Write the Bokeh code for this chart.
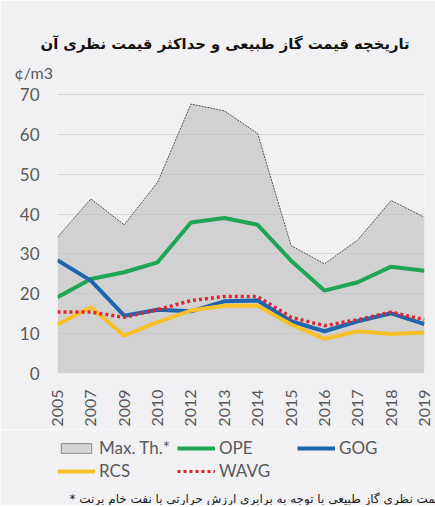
from bokeh.plotting import figure
from bokeh.models import Range1d, FixedTicker, Legend, LegendItem, Title
from bokeh.layouts import column
from bokeh.embed import file_html
from bokeh.resources import INLINE
import math

years = ["2005", "2007", "2009", "2010", "2012", "2013", "2014", "2015", "2016", "2017", "2018", "2019"]
max_th = [34.2, 43.8, 37.3, 48.0, 67.6, 65.9, 60.2, 32.1, 27.5, 33.5, 43.4, 39.2]
ope = [19.1, 23.7, 25.4, 27.9, 37.9, 39.0, 37.3, 28.3, 20.8, 22.9, 26.8, 25.8]
gog = [28.4, 23.3, 14.5, 16.0, 15.6, 18.1, 18.3, 13.1, 10.6, 13.1, 15.1, 12.4]
rcs = [12.3, 16.6, 9.5, 12.9, 15.8, 17.0, 17.0, 12.3, 8.7, 10.6, 9.9, 10.3]
wavg = [15.4, 15.4, 14.1, 16.0, 18.3, 19.3, 19.3, 14.1, 12.0, 13.5, 15.4, 13.5]
y_ticks = [0, 10, 20, 30, 40, 50, 60, 70]
series_names = ["Max. Th.*", "OPE", "GOG", "RCS", "WAVG"]

title_text = "تاریخچه قیمت گاز طبیعی و حداکثر قیمت نظری آن"
unit_text = "¢/m3"
note_text = "* حداکثر قیمت نظری گاز طبیعی با توجه به برابری ارزش حرارتی با نفت خام برنت"

x = list(range(len(years)))
BG = "#f1f1f3"
FONT = "Lato"
C_AREA, C_OPE, C_GOG, C_RCS, C_WAVG = "#bdbdbd", "#1fa553", "#1f65ad", "#f7c12b", "#dc2634"

# ---------------- main chart ----------------
p = figure(frame_width=367, frame_height=283, output_backend="svg", toolbar_location=None,
           x_range=Range1d(0, len(years) - 1), y_range=Range1d(0, 71),
           min_border_left=57, min_border_right=11, min_border_top=90, min_border_bottom=52,
           background_fill_color=BG, border_fill_color=BG, outline_line_color=None)

xs_poly = x + x[::-1]
ys_poly = max_th + [0] * len(x)
p.patch(xs_poly, ys_poly, fill_color=C_AREA, fill_alpha=0.62, line_color=None)
p.line(x, max_th, line_color="#555555", line_width=1, line_dash="2 1")
p.line(x, ope, line_color=C_OPE, line_width=4)
p.line(x, gog, line_color=C_GOG, line_width=4)
p.line(x, rcs, line_color=C_RCS, line_width=4)
p.line(x, wavg, line_color=C_WAVG, line_width=3.5, line_dash="3 3")

p.xaxis.ticker = FixedTicker(ticks=x)
p.xaxis.major_label_overrides = {i: y for i, y in enumerate(years)}
p.xaxis.major_label_orientation = math.pi / 2
p.yaxis.ticker = FixedTicker(ticks=y_ticks)
for ax in (p.xaxis, p.yaxis):
    ax.axis_line_color = None
    ax.major_tick_line_color = None
    ax.minor_tick_line_color = None
    ax.major_label_text_color = "#595959"
    ax.major_label_text_font = FONT
p.xaxis.major_label_text_font_size = "16px"
p.yaxis.major_label_text_font_size = "17px"
p.xaxis.major_label_standoff = 10
p.yaxis.major_label_standoff = 12
p.xgrid.grid_line_color = None
p.ygrid.grid_line_color = "#d9d9d9"
p.ygrid.grid_line_width = 1

p.add_layout(Title(text=unit_text, align="left", text_font=FONT, offset=-43,
                   text_font_size="16px", text_font_style="normal", text_color="#595959",
                   standoff=17), "above")
p.add_layout(Title(text=title_text, align="left", text_font="DejaVu Sans", offset=-17,
                   text_font_size="14.8px", text_font_style="bold", text_color="#111111",
                   standoff=1), "above")

# ---------------- legend + footnote ----------------
q = figure(frame_width=435, frame_height=60, output_backend="svg", toolbar_location=None,
           x_range=Range1d(0, 435), y_range=Range1d(0, 60),
           min_border=0, background_fill_color=BG, border_fill_color=BG,
           outline_line_color=None, x_axis_location=None, y_axis_location=None)
q.grid.grid_line_color = None

# legend swatches only (placed outside the visible range)
g_area = q.quad(left=[-20], right=[-10], bottom=[-20], top=[-10], fill_color="#d6d6d6",
                line_color="#888888", line_width=1)
g_ope = q.line(x=[-20, -10], y=[-20, -20], line_color=C_OPE, line_width=4)
g_gog = q.line(x=[-20, -10], y=[-20, -20], line_color=C_GOG, line_width=4)
g_rcs = q.line(x=[-20, -10], y=[-20, -20], line_color=C_RCS, line_width=4)
g_wavg = q.line(x=[-20, -10], y=[-20, -20], line_color=C_WAVG, line_width=3, line_dash="3 3")

legend = Legend(items=[LegendItem(label=n, renderers=[r]) for n, r in
                       zip(series_names, [g_area, g_ope, g_gog, g_rcs, g_wavg])],
                orientation="horizontal", ncols=3, location=(57, 8),
                background_fill_alpha=0, border_line_color=None, margin=0, padding=0,
                glyph_width=38, glyph_height=12, label_text_font=FONT,
                label_text_font_size="17px", label_text_color="#595959",
                spacing=2, label_standoff=4, label_width=76)
q.add_layout(legend, "center")
q.add_layout(Title(text=note_text, align="left", offset=12, text_font="DejaVu Sans",
                   text_font_size="12px", text_font_style="normal", text_color="#222222",
                   standoff=0), "below")

layout = column(p, q, spacing=0)
open("out.html", "w").write(file_html(layout, INLINE))
